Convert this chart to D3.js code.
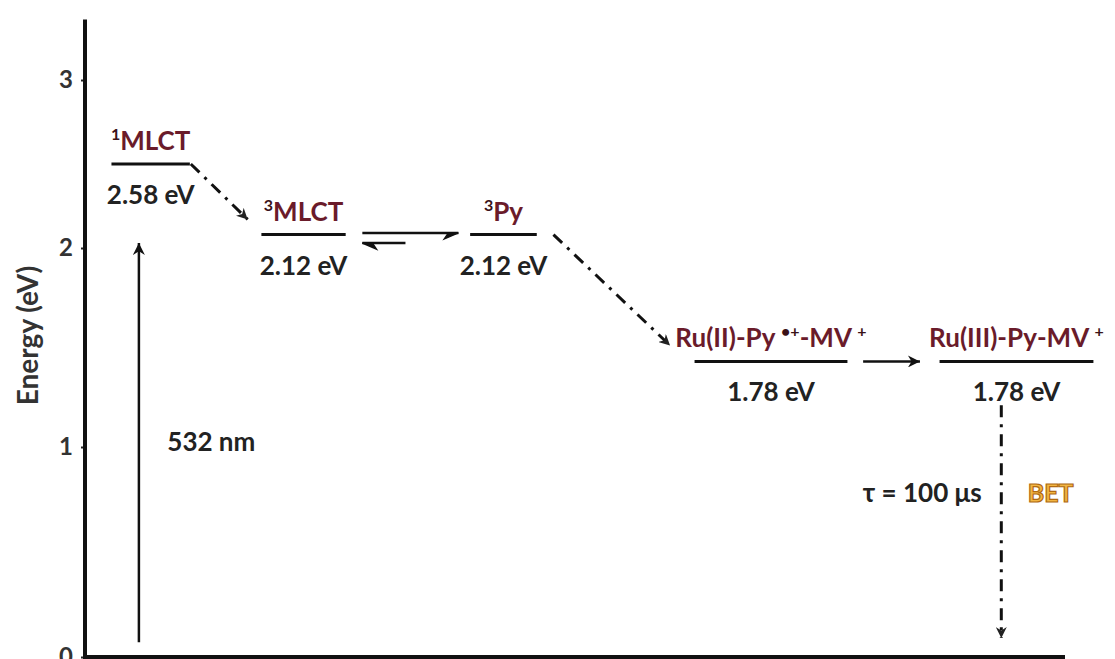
<!DOCTYPE html>
<html>
<head>
<meta charset="utf-8">
<script src="https://cdn.jsdelivr.net/npm/d3@7"></script>
<style>
  body { margin: 0; background: #fff; }
  text { font-family: Lato, "Open Sans", sans-serif; font-weight: bold; }
</style>
</head>
<body>
<div id="chart"></div>
<script>
// energy levels ({...} = superscript)
const levelNames = ["{1}MLCT", "{3}MLCT", "{3}Py", "Ru(II)-Py {•+}-MV {+}", "Ru(III)-Py-MV {+}"];
const levelEnergies = ["2.58 eV", "2.12 eV", "2.12 eV", "1.78 eV", "1.78 eV"];
const levelY = [2.5, 2.08, 2.08, 1.43, 1.43];      // drawn height on the energy axis
const levelX0 = [2.7, 18.0, 39.3, 62.2, 87.2];
const levelX1 = [10.7, 26.6, 46.1, 77.8, 102.9];

// transitions
const arrowFrom = [[5.5, 0.07], [10.8, 2.5], [28.3, 2.09], [32.7, 2.03], [47.8, 2.08], [79.4, 1.43], [93.5, 1.21]];
const arrowTo   = [[5.5, 2.03], [16.6, 2.17], [38.1, 2.09], [28.3, 2.03], [59.7, 1.51], [85.2, 1.43], [93.5, 0.09]];
const arrowKind = ["solid", "dashdot", "harpoonDown", "harpoonDown", "dashdot", "solid", "dashdot"];

// annotations
const noteText = ["532 nm", "τ = 100 μs", "BET"];
const notePos = [[8.4, 0.98], [91.5, 0.737], [96.2, 0.737]];
const noteAnchor = ["start", "end", "start"];

const yTicks = [0, 1, 2, 3];

let width = 1115,
    height = 659;

let svg = d3.select("#chart").append("svg")
  .attr("width", width)
  .attr("height", height);

svg.append("rect").attr("width", width).attr("height", height).attr("fill", "#fff");

let x = d3.scaleLinear().domain([0, 100]).range([85, 1065]);
let y = d3.scaleLinear().domain([0, 1, 2, 3]).range([657, 447, 248, 80]);

let defs = svg.append("defs");
defs.append("marker")
  .attr("id", "head")
  .attr("viewBox", "0 0 10 10")
  .attr("refX", 10).attr("refY", 5)
  .attr("markerWidth", 14).attr("markerHeight", 12)
  .attr("markerUnits", "userSpaceOnUse")
  .attr("orient", "auto")
  .append("path").attr("d", "M0,0 L10,5 L0,10 L3,5 z").attr("fill", "#111");
defs.append("marker")
  .attr("id", "headSmall")
  .attr("viewBox", "0 0 10 10")
  .attr("refX", 10).attr("refY", 5)
  .attr("markerWidth", 11).attr("markerHeight", 11)
  .attr("markerUnits", "userSpaceOnUse")
  .attr("orient", "auto")
  .append("path").attr("d", "M0,0 L10,5 L0,10 L3,5 z").attr("fill", "#222");

// axes
let yAxis = svg.append("g")
  .attr("transform", `translate(${x(0)},0)`)
  .call(d3.axisLeft(y).tickValues(yTicks).tickSize(4).tickPadding(8).tickFormat(d3.format("d")));
yAxis.select(".domain").remove();
yAxis.selectAll("text").attr("font-size", 24).attr("fill", "#333");
yAxis.selectAll("line").attr("stroke", "#222").attr("stroke-width", 2);

svg.append("line")
  .attr("x1", x(0)).attr("x2", x(0))
  .attr("y1", y(0) + 2).attr("y2", y(3.36))
  .attr("stroke", "#111").attr("stroke-width", 4);
svg.append("line")
  .attr("x1", x(0) - 2).attr("x2", x(100))
  .attr("y1", y(0)).attr("y2", y(0))
  .attr("stroke", "#111").attr("stroke-width", 4);

svg.append("text")
  .attr("transform", `translate(38,${(y(1) + y(2)) / 2 - 12}) rotate(-90)`)
  .attr("text-anchor", "middle")
  .attr("font-size", 28)
  .attr("fill", "#333")
  .text("Energy (eV)");

// levels
let levels = levelNames.map((n, i) => ({
  name: n, energy: levelEnergies[i], y: levelY[i], x0: levelX0[i], x1: levelX1[i]
}));

svg.selectAll(".level")
  .data(levels)
  .enter().append("line")
    .attr("class", "level")
    .attr("x1", d => x(d.x0)).attr("x2", d => x(d.x1))
    .attr("y1", d => y(d.y)).attr("y2", d => y(d.y))
    .attr("stroke", "#111").attr("stroke-width", 3);

let names = svg.selectAll(".name")
  .data(levels)
  .enter().append("text")
    .attr("class", "name")
    .attr("x", d => (x(d.x0) + x(d.x1)) / 2)
    .attr("y", d => y(d.y) - 14)
    .attr("text-anchor", "middle")
    .attr("font-size", 26)
    .attr("fill", "#6a1b2a");

names.each(function(d) {
  let t = d3.select(this);
  let parts = d.name.split(/(\{[^}]*\})/).filter(p => p.length);
  let shifted = false;
  parts.forEach(p => {
    if (p[0] === "{") {
      t.append("tspan").attr("font-size", 16).attr("dy", -10).attr("fill", "#3a1218").text(p.slice(1, -1));
      shifted = true;
    } else {
      t.append("tspan").attr("dy", shifted ? 10 : 0).text(p);
      shifted = false;
    }
  });
});

svg.selectAll(".energy")
  .data(levels)
  .enter().append("text")
    .attr("class", "energy")
    .attr("x", d => (x(d.x0) + x(d.x1)) / 2)
    .attr("y", d => y(d.y) + 40)
    .attr("text-anchor", "middle")
    .attr("font-size", 26)
    .attr("fill", "#222")
    .text(d => d.energy);

// transitions
let arrows = arrowKind.map((k, i) => ({
  kind: k,
  x0: x(arrowFrom[i][0]), y0: y(arrowFrom[i][1]),
  x1: x(arrowTo[i][0]), y1: y(arrowTo[i][1])
}));

svg.selectAll(".arrow")
  .data(arrows)
  .enter().append("line")
    .attr("class", "arrow")
    .attr("x1", d => d.x0).attr("y1", d => d.y0)
    .attr("x2", d => d.x1).attr("y2", d => d.y1)
    .attr("stroke", "#111")
    .attr("stroke-width", d => d.kind === "dashdot" ? 3 : 2.5)
    .attr("stroke-dasharray", d => d.kind === "dashdot" ? "12,7,3,7" : null)
    .attr("marker-end", d => d.kind === "solid" ? "url(#head)" : d.kind === "dashdot" ? "url(#headSmall)" : null);

// half-arrow heads for the equilibrium pair
svg.selectAll(".harpoon")
  .data(arrows.filter(d => d.kind.startsWith("harpoon")))
  .enter().append("path")
    .attr("class", "harpoon")
    .attr("d", d => {
      let dir = Math.sign(d.x1 - d.x0);
      let s = d.kind === "harpoonUp" ? -1 : 1;
      return `M${d.x1},${d.y1} L${d.x1 - dir * 14},${d.y1 + s * 6} L${d.x1 - dir * 10},${d.y1} z`;
    })
    .attr("fill", "#111").attr("stroke", "#111").attr("stroke-width", 1.5);

// annotations
svg.selectAll(".note")
  .data(noteText)
  .enter().append("text")
    .attr("class", "note")
    .attr("x", (d, i) => x(notePos[i][0]))
    .attr("y", (d, i) => y(notePos[i][1]))
    .attr("text-anchor", (d, i) => noteAnchor[i])
    .attr("font-size", (d, i) => i === 2 ? 25 : 26)
    .attr("fill", (d, i) => i === 2 ? "#f2b543" : "#222")
    .attr("stroke", (d, i) => i === 2 ? "#b06a12" : null)
    .attr("stroke-width", (d, i) => i === 2 ? 1.2 : null)
    .text(d => d);
</script>
</body>
</html>
